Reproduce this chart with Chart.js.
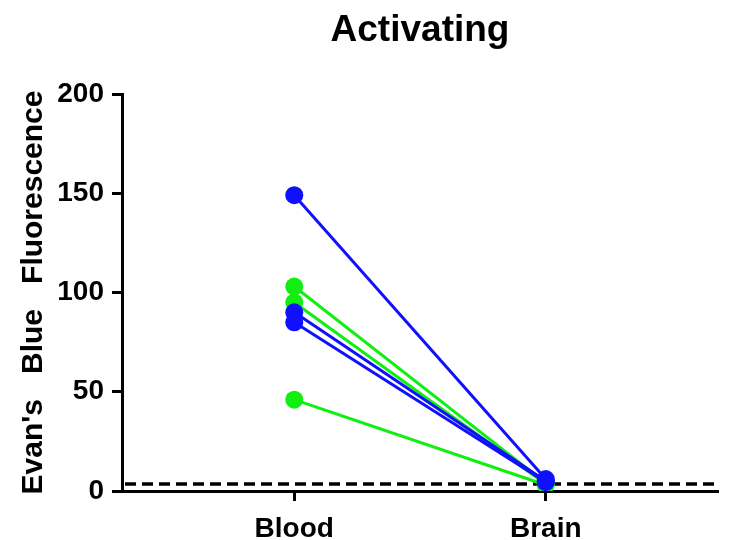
<!DOCTYPE html>
<html>
<head>
<meta charset="utf-8">
<script src="https://cdn.jsdelivr.net/npm/chart.js@4.4.0/dist/chart.umd.min.js"></script>
<style>
  html, body { margin: 0; padding: 0; background: #fff; }
  #wrap { width: 731px; height: 540px; }
</style>
</head>
<body>
<div id="wrap"><canvas id="pairedChart"></canvas></div>
<script>
// categories and values
const categories = ['Blood', 'Brain'];
const greenBlood = [103, 95, 46];
const greenBrain = [4, 3.5, 3];
const blueBlood = [149, 90, 85];
const blueBrain = [6, 5, 4.5];
const yTicks = [0, 50, 100, 150, 200];
const thresholdValue = 3.5;

const GREEN = '#11ee11';
const BLUE = '#1010ff';
const FONT = "'Liberation Sans', Arial, sans-serif";

function pairSets(blood, brain, color) {
    return blood.map((v, i) => ({
        data: [{ x: 0, y: v }, { x: 1, y: brain[i] }],
        xAxisID: 'x',
        yAxisID: 'y',
        borderColor: color,
        backgroundColor: color,
        borderWidth: 3,
        pointRadius: 9,
        pointHoverRadius: 9,
        pointBorderWidth: 0,
        showLine: true
    }));
}

// dashed reference line across the plot area
const thresholdLine = {
    id: 'thresholdLine',
    beforeDatasetsDraw(chart) {
        const { ctx, chartArea } = chart;
        const y = chart.scales.y.getPixelForValue(thresholdValue);
        ctx.save();
        ctx.strokeStyle = '#000';
        ctx.lineWidth = 3.5;
        ctx.setLineDash([11, 6]);
        ctx.beginPath();
        ctx.moveTo(chartArea.left + 3, y);
        ctx.lineTo(chartArea.right, y);
        ctx.stroke();
        ctx.restore();
    }
};

new Chart(document.getElementById('pairedChart'), {
    type: 'scatter',
    data: {
        // first datasets are drawn on top, so blue goes first
        datasets: [
            ...pairSets(blueBlood, blueBrain, BLUE),
            ...pairSets(greenBlood, greenBrain, GREEN)
        ]
    },
    options: {
        responsive: true,
        maintainAspectRatio: false,
        animation: false,
        layout: { padding: { left: 0, right: 13, top: 0, bottom: 0 } },
        plugins: {
            legend: { display: false },
            tooltip: { enabled: false }
        },
        scales: {
            x: {
                type: 'linear',
                min: -0.685,
                max: 1.685,
                afterBuildTicks: (scale) => {
                    scale.ticks = categories.map((c, i) => ({ value: i }));
                },
                afterFit: (scale) => { scale.height = 49; },
                ticks: {
                    color: '#000',
                    font: { family: FONT, size: 28, weight: 'bold' },
                    padding: 11,
                    callback: (v) => categories[v]
                },
                grid: {
                    drawOnChartArea: false,
                    drawTicks: true,
                    tickLength: 10,
                    tickWidth: 3,
                    color: '#000'
                },
                border: { display: true, color: '#000', width: 3 }
            },
            // top axis only carries the title, centred over the plot
            xTop: {
                type: 'linear',
                position: 'top',
                afterFit: (scale) => { scale.height = 94; },
                ticks: { display: false },
                grid: { display: false },
                border: { display: false },
                title: {
                    display: true,
                    text: 'Activating',
                    color: '#000',
                    font: { family: FONT, size: 37, weight: 'bold' },
                    padding: { top: 9, bottom: 0 }
                }
            },
            y: {
                min: 0,
                max: 200,
                afterBuildTicks: (scale) => {
                    scale.ticks = yTicks.map(v => ({ value: v }));
                },
                afterFit: (scale) => { scale.width = 122; },
                ticks: {
                    color: '#000',
                    font: { family: FONT, size: 28, weight: 'bold' },
                    padding: 8
                },
                grid: {
                    drawOnChartArea: false,
                    drawTicks: true,
                    tickLength: 10,
                    tickWidth: 3,
                    color: '#000'
                },
                border: { display: true, color: '#000', width: 3 },
                title: {
                    display: true,
                    text: "Evan's   Blue   Fluorescence",
                    color: '#000',
                    font: { family: FONT, size: 30, weight: 'bold' },
                    padding: { top: 16, bottom: 0 }
                }
            }
        }
    },
    plugins: [thresholdLine]
});
</script>
</body>
</html>
